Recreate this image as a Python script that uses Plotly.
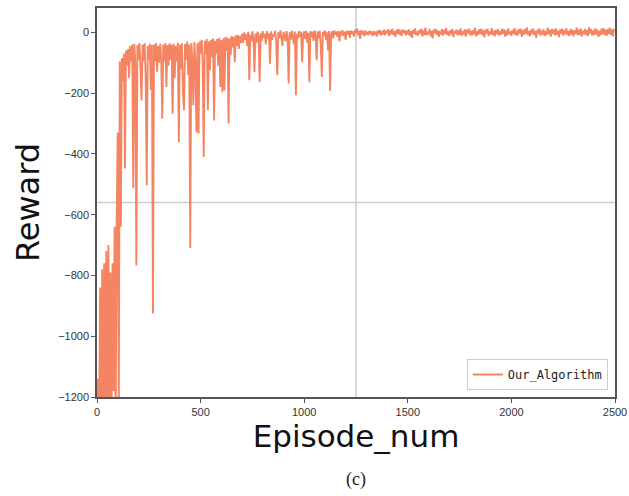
import plotly.graph_objects as go

# Episodes sampled every 5 episodes
episodes = list(range(0, 2500, 5))

rewards_0_495 = [
    -1250, -1140, -1300, -840, -1280, -780, -1300, -760, -1250, -720,
    -1300, -700, -1220, -790, -1300, -760, -1180, -640, -1300, -620,
    -330, -1300, -95, -640, -85, -160, -70, -448, -60, -110,
    -55, -150, -45, -95, -40, -513, -38, -100, -767, -42,
    -90, -35, -120, -224, -40, -95, -36, -150, -503, -45,
    -90, -38, -190, -42, -925, -40, -95, -35, -130, -45,
    -100, -38, -90, -284, -40, -95, -35, -180, -42, -110,
    -36, -90, -40, -268, -38, -150, -45, -95, -34, -361,
    -40, -120, -36, -200, -256, -38, -90, -30, -140, -40,
    -710, -35, -85, -240, -32, -100, -329, -36, -333, -30,
]

rewards_500_995 = [
    -70, -25, -95, -410, -28, -70, -22, -256, -30, -125,
    -25, -80, -20, -290, -28, -70, -22, -110, -18, -180,
    -25, -197, -20, -191, -15, -60, -18, -300, -20, -75,
    -12, -50, -15, -98, -10, -45, -8, -55, -12, -35,
    -5, -35, 0, -25, -6, -45, 2, -158, -8, -30,
    3, -20, -131, -4, -35, 2, -15, -164, -2, -28,
    4, -18, -5, -40, 5, -22, -3, -103, 3, -25,
    -6, -12, 5, -35, -141, 0, -20, 6, -15, -45,
    2, -10, -30, 4, -18, -168, 0, -25, 5, -12,
    -40, 3, -207, -5, -20, 4, -15, 2, -98, -8,
]

rewards_1000_1495 = [
    3, -22, 5, -35, -2, -164, 4, -15, 2, -28,
    6, -10, -92, 3, -18, 5, -40, -147, 2, -12,
    6, -25, 0, -60, 4, -193, -5, 3, -20, 6,
    -8, 2, -15, 5, -30, 3, -10, 7, -12, 2,
    -25, 5, -8, 4, -18, 6, -5, 3, -14, 8,
    -2, 12, -10, 5, -22, 7, -6, 4, -12, 6,
    -8, 2, -10, 5, -6, 3, -12, 4, -9, 2,
    -14, 6, -5, 8, -11, 4, -7, 9, -10, 5,
    -4, 10, -12, 7, -6, 12, -9, 4, -15, 8,
    -5, 11, -8, 6, -12, 9, -3, 7, -10, 5,
]

rewards_1500_1995 = [
    -7, 10, -12, 4, -18, 8, -5, 13, -9, 3,
    -11, 7, -4, 12, -14, 6, -8, 15, -10, 2,
    -6, 11, -13, 5, -20, 9, -3, 12, -8, 6,
    -15, 4, -7, 10, -11, 8, -5, 14, -9, 3,
    -12, 7, -6, 11, -16, 5, -4, 9, -10, 6,
    -8, 13, -12, 4, -7, 10, -14, 8, -3, 12,
    -9, 5, -11, 7, -6, 15, -13, 4, -8, 10,
    -5, 12, -10, 6, -17, 9, -4, 11, -12, 3,
    -7, 14, -9, 5, -13, 8, -6, 10, -11, 4,
    -8, 12, -5, 9, -14, 6, -10, 13, -7, 3,
]

rewards_2000_2495 = [
    -12, 8, -6, 14, -9, 5, -11, 10, -4, 12,
    -15, 7, -8, 11, -5, 16, -10, 4, -13, 9,
    -6, 12, -9, 5, -18, 8, -4, 13, -11, 6,
    -7, 10, -12, 4, -9, 15, -6, 8, -14, 11,
    -5, 9, -10, 13, -8, 5, -16, 10, -4, 12,
    -11, 7, -6, 14, -9, 4, -12, 11, -7, 8,
    -13, 6, -5, 15, -10, 9, -8, 12, -14, 5,
    -6, 11, -9, 7, -12, 16, -4, 10, -11, 6,
    -8, 13, -7, 9, -15, 5, -10, 12, -6, 14,
    -9, 8, -12, 11, -5, 15, -8, 10, -13, 12,
]

rewards = (rewards_0_495 + rewards_500_995 + rewards_1000_1495
           + rewards_1500_1995 + rewards_2000_2495)

x_ticks = [0, 500, 1000, 1500, 2000, 2500]
y_ticks = [0, -200, -400, -600, -800, -1000, -1200]
ref_x = 1250
ref_y = -560

fig = go.Figure()
fig.add_trace(go.Scatter(
    x=episodes, y=rewards, mode="lines", name="Our_Algorithm",
    line=dict(color="rgb(245,133,98)", width=1.9, simplify=False),
))

fig.add_shape(type="line", x0=ref_x, x1=ref_x, y0=0, y1=1, xref="x", yref="paper",
              line=dict(color="rgb(205,205,205)", width=1.5), layer="below")
fig.add_shape(type="line", x0=0, x1=1, y0=ref_y, y1=ref_y, xref="paper", yref="y",
              line=dict(color="rgb(205,205,205)", width=1.5), layer="below")

axis_common = dict(
    showgrid=False, zeroline=False, showline=True, mirror=True,
    linecolor="#555555", linewidth=1.5, ticks="outside", ticklen=4,
    tickwidth=1, tickcolor="#555555", automargin=False,
    tickfont=dict(family="Liberation Sans, Arial", size=11, color="#333333"),
)

fig.update_layout(
    width=629, height=496,
    margin=dict(l=97, r=14, t=8, b=99),
    paper_bgcolor="white", plot_bgcolor="white",
    xaxis=dict(range=[0, 2500], tickvals=x_ticks,
               title=dict(text="Episode_num", standoff=6,
                          font=dict(family="DejaVu Sans", size=31, color="#111111")),
               **axis_common),
    yaxis=dict(range=[-1200, 80], tickvals=y_ticks,
               title=dict(text="Reward", standoff=9,
                          font=dict(family="DejaVu Sans", size=32, color="#111111")),
               **axis_common),
    showlegend=True,
    legend=dict(x=0.986, y=0.018, xanchor="right", yanchor="bottom",
                bgcolor="white", bordercolor="#cccccc", borderwidth=1,
                itemwidth=30, tracegroupgap=0,
                font=dict(family="DejaVu Sans Mono", size=12, color="#222222")),
    annotations=[dict(text="(c)", x=0.5, y=-0.213, xref="paper", yref="paper",
                      showarrow=False, xanchor="center", yanchor="middle",
                      font=dict(family="Liberation Serif, Times New Roman", size=18,
                                color="#222222"))],
)

fig.write_html("out.html")
